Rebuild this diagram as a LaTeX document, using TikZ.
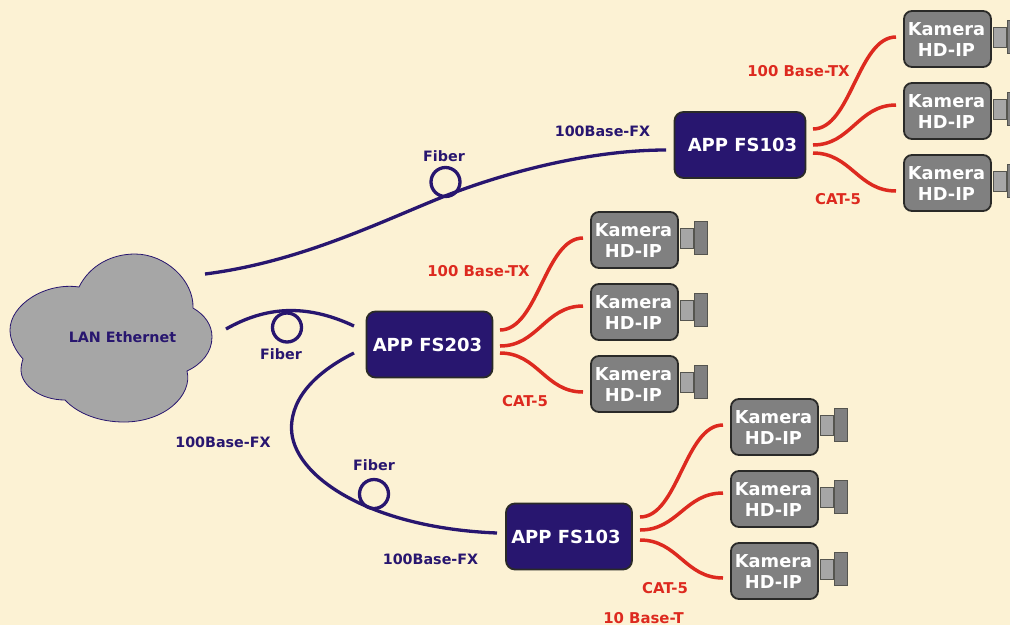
\documentclass[tikz,border=0pt]{standalone}
\usepackage{fontspec}
\setmainfont{DejaVu Sans}
\definecolor{bgc}{HTML}{FCF2D4}
\definecolor{navy}{HTML}{28166F}
\definecolor{redc}{HTML}{DD2A1F}
\definecolor{camc}{HTML}{808080}
\definecolor{lensc}{HTML}{A6A6A6}
\definecolor{edgec}{HTML}{2A2A28}
\definecolor{lensedge}{HTML}{55554F}
\tikzset{
  fnt/.style={font=\fontsize{#1}{#1}\selectfont\bfseries},
  swbox/.style={draw=edgec,line width=1.8pt,fill=navy,rounded corners=9pt,minimum width=126pt,minimum height=66pt,inner sep=0pt,outer sep=0pt,text=white,fnt=18},
  cambox/.style={draw=edgec,line width=1.8pt,fill=camc,rounded corners=8pt,minimum width=87pt,minimum height=56pt,inner sep=0pt,outer sep=0pt,text=white,fnt=17.8,align=center},
  lensa/.style={draw=lensedge,line width=1pt,fill=lensc,minimum width=13.5pt,minimum height=20pt,inner sep=0pt,outer sep=0pt},
  lensb/.style={draw=lensedge,line width=1pt,fill=camc,minimum width=13pt,minimum height=33pt,inner sep=0pt,outer sep=0pt},
  bluelbl/.style={text=navy,fnt=14.3,inner sep=0pt},
  redlbl/.style={text=redc,fnt=14.9,inner sep=0pt},
  fibre/.style={draw=navy,line width=3.3pt},
  coil/.style={draw=navy,line width=3.3pt,circle,minimum size=29pt,inner sep=0pt,outer sep=0pt},
  copper/.style={draw=redc,line width=3.5pt},
}
\newcommand{\camunit}[3]{%
  \node[cambox] (#1) at (#2+43.5,#3+28) {\rule{0pt}{14pt}Kamera\hspace*{2pt}\\[4pt]HD-IP\hspace*{2pt}};
  \node[lensa] (#1l) at (#2+95.8,#3+26) {};
  \node[lensb] (#1b) at (#2+110,#3+25.5) {};
}
\newcommand{\wire}[4]{\draw[copper] (#1) .. controls ($(#1)+(#3,0)$) and ($(#2)-(#4,0)$) .. (#2);}
\usetikzlibrary{calc}
\begin{document}
\begin{tikzpicture}[x=1pt,y=-1pt]
\useasboundingbox (0,0) rectangle (1010,625);
\fill[bgc] (0,0) rectangle (1010,625);

% cloud
\draw[draw=navy,line width=0.8pt,fill=lensc]
 (79,287) .. controls (90,265) and (112,254) .. (135,254)
 .. controls (165,254) and (194,280) .. (193,308)
 .. controls (205,315) and (212,325) .. (212,337)
 .. controls (212,352) and (202,364) .. (187,371)
 .. controls (193,395) and (165,422) .. (124,422)
 .. controls (100,422) and (78,414) .. (65,400)
 .. controls (40,400) and (21,385) .. (21,370)
 .. controls (21,366) and (22,362) .. (23,359)
 .. controls (15,350) and (10,340) .. (10,330)
 .. controls (10,305) and (45,282) .. (79,287) -- cycle;
\node[bluelbl] (lan) at (122.5,337) {LAN Ethernet};

% switches
\node[swbox,minimum width=131pt] (swa) at (740,145) {\hspace*{5pt}APP FS103};
\node[swbox] (swb) at (429.5,344.5) {APP FS203\hspace*{4pt}};
\node[swbox] (swc) at (569,536.5) {APP FS103\hspace*{6pt}};

% cameras
\camunit{ca}{904}{11}
\camunit{cb}{904}{83}
\camunit{cc}{904}{155}
\camunit{cd}{591}{212}
\camunit{ce}{591}{284}
\camunit{cf}{591}{356}
\camunit{cg}{731}{399}
\camunit{ch}{731}{471}
\camunit{ci}{731}{543}

% fibre end points
\coordinate (fa) at (205,274);
\coordinate (fb) at (666,150);
\coordinate (fm) at (445,196);
\coordinate (ga) at (226,329);
\coordinate (gb) at (354,326);
\coordinate (ha) at (354,353);
\coordinate (hm) at (291.5,428);
\coordinate (hb) at (497,533);

\draw[fibre] (fa) .. controls (300,262) and (380,222) .. (fm) .. controls (520,167) and (600,150) .. (fb);
\draw[fibre] (ga) .. controls (265,307) and (305,303) .. (gb);
\draw[fibre] (ha) .. controls (320,370) and (291.5,395) .. (hm) .. controls (291.5,476) and (370,528) .. (hb);
\node[coil] (ka) at (445.5,182) {};
\node[coil] (kb) at (287,327.5) {};
\node[coil] (kc) at (374,494) {};

% copper
\coordinate (a1) at (813,129); \coordinate (a2) at (813,145); \coordinate (a3) at (813,153);
\coordinate (a4) at (896,37);  \coordinate (a5) at (896,105); \coordinate (a6) at (896,191);
\coordinate (b1) at (500,330); \coordinate (b2) at (500,346); \coordinate (b3) at (500,353);
\coordinate (b4) at (583,238); \coordinate (b5) at (583,306); \coordinate (b6) at (583,392);
\coordinate (c1) at (640,517); \coordinate (c2) at (640,530); \coordinate (c3) at (640,540);
\coordinate (c4) at (723,425); \coordinate (c5) at (723,493); \coordinate (c6) at (723,578);
\wire{a1}{a4}{38}{38}\wire{a2}{a5}{38}{38}\wire{a3}{a6}{38}{38}
\wire{b1}{b4}{38}{38}\wire{b2}{b5}{38}{38}\wire{b3}{b6}{38}{38}
\wire{c1}{c4}{38}{38}\wire{c2}{c5}{38}{38}\wire{c3}{c6}{38}{38}

% labels
\node[bluelbl] (l1) at (444,156) {Fiber};
\node[bluelbl] (l2) at (602.5,131) {100Base-FX};
\node[bluelbl] (l3) at (281,354) {Fiber};
\node[bluelbl] (l4) at (223,442) {100Base-FX};
\node[bluelbl] (l5) at (374,465) {Fiber};
\node[bluelbl] (l6) at (430.5,559) {100Base-FX};
\node[redlbl] (r1) at (798.5,71) {100 Base-TX};
\node[redlbl] (r2) at (838,199.5) {CAT-5};
\node[redlbl] (r3) at (478.5,271) {100 Base-TX};
\node[redlbl] (r4) at (525,401) {CAT-5};
\node[redlbl] (r5) at (665,588) {CAT-5};
\node[redlbl] (r6) at (643.5,618.5) {10 Base-T};
\end{tikzpicture}
\end{document}
